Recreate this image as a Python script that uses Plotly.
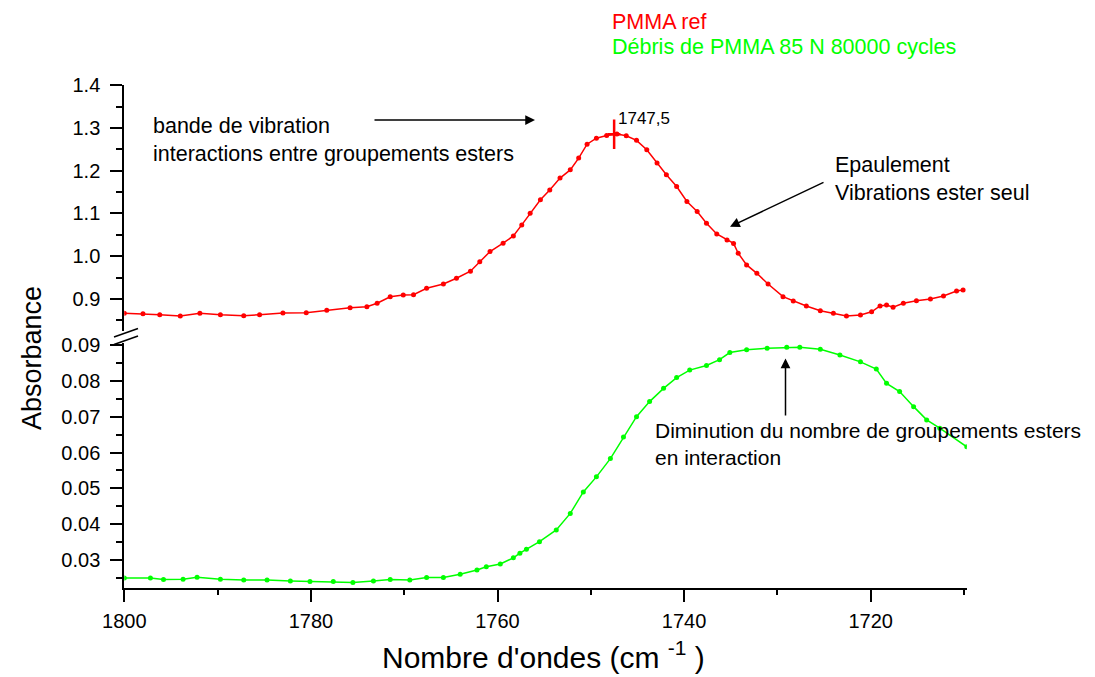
import plotly.graph_objects as go

# ---------------- data ----------------
red_wn = [1800.0, 1798.0, 1796.2, 1794.0, 1791.9, 1789.7, 1787.2, 1785.5, 1783.0, 1780.5,
          1778.3, 1775.8, 1774.0, 1772.9, 1771.5, 1770.1, 1769.0, 1767.6, 1765.8, 1764.4,
          1762.9, 1761.9, 1760.8, 1759.4, 1758.3, 1757.4, 1756.5, 1755.4, 1754.4, 1753.3,
          1752.2, 1751.3, 1750.4, 1749.4, 1748.3, 1747.2, 1746.2, 1745.1, 1744.0, 1742.9,
          1741.9, 1740.8, 1739.7, 1738.6, 1737.6, 1736.5, 1735.4, 1734.7, 1734.2, 1733.3,
          1732.2, 1731.0, 1729.4, 1728.3, 1726.9, 1725.4, 1724.0, 1722.6, 1721.1, 1719.9,
          1719.0, 1718.3, 1717.6, 1716.5, 1715.1, 1713.6, 1712.2, 1710.8, 1710.1]
red_abs = [0.8665, 0.8656, 0.8633, 0.8600, 0.8665, 0.8630, 0.8610, 0.8630, 0.8670, 0.8680,
           0.8735, 0.8797, 0.8820, 0.8900, 0.9050, 0.9094, 0.9100, 0.9250, 0.9350, 0.9485,
           0.9650, 0.9870, 1.0110, 1.0304, 1.0475, 1.0733, 1.1007, 1.1320, 1.1550, 1.1827,
           1.2020, 1.2295, 1.2620, 1.2760, 1.2824, 1.2857, 1.2817, 1.2710, 1.2490, 1.2180,
           1.1904, 1.1630, 1.1280, 1.1045, 1.0773, 1.0520, 1.0380, 1.0300, 1.0070, 0.9796,
           0.9600, 0.9350, 0.9054, 0.8953, 0.8836, 0.8726, 0.8665, 0.8600, 0.8625, 0.8700,
           0.8836, 0.8860, 0.8806, 0.8900, 0.8960, 0.9000, 0.9070, 0.9187, 0.9210]

green_wn = [1800.0, 1797.2, 1795.8, 1793.7, 1792.2, 1789.7, 1787.2, 1784.7, 1782.2, 1780.1,
            1777.6, 1775.5, 1773.3, 1771.5, 1769.4, 1767.6, 1765.8, 1764.0, 1762.2, 1761.2,
            1759.7, 1758.3, 1757.6, 1756.9, 1755.5, 1753.7, 1752.2, 1750.8, 1749.4, 1747.9,
            1746.5, 1745.1, 1743.7, 1742.2, 1740.8, 1739.4, 1737.6, 1736.2, 1735.1, 1733.3,
            1731.1, 1729.0, 1727.6, 1725.4, 1723.3, 1721.1, 1719.4, 1718.3, 1716.9, 1715.4,
            1714.0, 1712.6, 1709.7]
green_abs = [0.0250, 0.0250, 0.02455, 0.0246, 0.0252, 0.0246, 0.0244, 0.0244, 0.02415, 0.0240,
             0.0240, 0.0237, 0.02415, 0.02455, 0.0244, 0.0251, 0.0251, 0.0260, 0.0272, 0.0281,
             0.0289, 0.0306, 0.0319, 0.0330, 0.0351, 0.0384, 0.0430, 0.0490, 0.0532, 0.0583,
             0.0643, 0.0700, 0.0742, 0.0779, 0.0809, 0.0830, 0.0843, 0.0859, 0.0879, 0.0887,
             0.0891, 0.0894, 0.0894, 0.0888, 0.0872, 0.0853, 0.0833, 0.0793, 0.0770, 0.0728,
             0.0691, 0.0668, 0.0616]

peak_wn = [1747.5]
peak_abs = [1.2852]
peak_label = "1747,5"

series_names = ["PMMA ref", "Débris de PMMA 85 N 80000 cycles"]
x_title = "Nombre d'ondes (cm <sup>-1</sup> )"
y_title = "Absorbance"

# ---------------- layout helpers ----------------
W, H = 1095, 677
OFF = 8  # the page places the figure 8 px from the top-left corner
def px(x):
    return (x - OFF) / W
def py(y):
    return 1 - (y - OFF) / H

RED = "#FF0000"
GREEN = "#00FF00"
FONT = "Liberation Sans, Arial, sans-serif"

fig = go.Figure()
fig.add_trace(go.Scatter(x=green_wn, y=green_abs, xaxis="x", yaxis="y",
                         mode="lines+markers", name=series_names[1],
                         line=dict(color=GREEN, width=1.5),
                         marker=dict(color=GREEN, size=5), showlegend=False))
fig.add_trace(go.Scatter(x=red_wn, y=red_abs, xaxis="x2", yaxis="y2",
                         mode="lines+markers", name=series_names[0],
                         line=dict(color=RED, width=1.5),
                         marker=dict(color=RED, size=5), showlegend=False))
fig.add_trace(go.Scatter(x=peak_wn, y=peak_abs, xaxis="x2", yaxis="y2", mode="markers",
                         marker=dict(symbol="line-ns", size=21, color=RED,
                                     line=dict(color=RED, width=2.5)),
                         showlegend=False, hoverinfo="skip"))
fig.add_trace(go.Scatter(x=peak_wn, y=peak_abs, xaxis="x2", yaxis="y2", mode="markers",
                         marker=dict(symbol="line-ew", size=9, color=RED,
                                     line=dict(color=RED, width=2.5)),
                         showlegend=False, hoverinfo="skip"))

x_dom = [px(124.3), px(966.8)]
axis_common = dict(showline=True, linecolor="black", linewidth=2, ticks="outside",
                   ticklen=12, tickwidth=2, tickcolor="black", showgrid=False,
                   zeroline=False, automargin=False,
                   tickfont=dict(size=20, color="black", family=FONT))

fig.update_layout(
    template="none",
    width=W, height=H, autosize=False,
    margin=dict(l=0, r=0, t=0, b=0, pad=0, autoexpand=False),
    paper_bgcolor="white", plot_bgcolor="white", showlegend=False,
    font=dict(family=FONT, color="black", size=20),
    xaxis=dict(domain=x_dom, range=[1800, 1709.7], anchor="y",
               tick0=1800, dtick=20, ticklabelstandoff=2,
               minor=dict(tick0=1800, dtick=10, ticks="outside", ticklen=5,
                          tickwidth=2, tickcolor="black", showgrid=False),
               **axis_common),
    yaxis=dict(domain=[py(588.3), py(343)], range=[0.0221, 0.09056], anchor="x",
               tick0=0, dtick=0.01, tickformat=".2f", ticklabelstandoff=6,
               minor=dict(tick0=0, dtick=0.005, ticks="outside", ticklen=6,
                          tickwidth=2, tickcolor="black", showgrid=False),
               **axis_common),
    xaxis2=dict(domain=x_dom, matches="x", anchor="y2", visible=False, automargin=False),
    yaxis2=dict(domain=[py(331), py(85)], range=[0.8251, 1.4005], anchor="x2",
                tick0=0, dtick=0.1, tickformat=".1f", ticklabelstandoff=6,
                minor=dict(tick0=0, dtick=0.05, ticks="outside", ticklen=6,
                           tickwidth=2, tickcolor="black", showgrid=False),
                **axis_common),
)

# axis break marks
for (x0, y0, x1, y1) in [(114, 337, 138, 328.5), (114, 344.5, 138, 336)]:
    fig.add_shape(type="line", xref="paper", yref="paper",
                  x0=px(x0), y0=py(y0), x1=px(x1), y1=py(y1),
                  line=dict(color="black", width=1.5))

ann = []
# legend-like texts
ann.append(dict(text=series_names[0], x=px(610), y=py(22), font=dict(size=21.5, color=RED)))
ann.append(dict(text=series_names[1], x=px(610), y=py(47), font=dict(size=21.5, color=GREEN)))
# annotations
ann.append(dict(text="bande de vibration<br>interactions entre groupements esters",
                x=px(151), y=py(139.5), font=dict(size=21.5)))
ann.append(dict(text=peak_label, x=px(616), y=py(118), font=dict(size=17)))
ann.append(dict(text="Epaulement<br>Vibrations ester seul", x=px(833), y=py(179),
                font=dict(size=21.5)))
ann.append(dict(text="Diminution du nombre de groupements esters<br>en interaction",
                x=px(653), y=py(444), font=dict(size=21)))
# x axis title (with the cm^-1 superscript)
ann.append(dict(text=x_title, x=px(380), y=py(655), font=dict(size=30)))
for a in ann:
    a.update(xref="paper", yref="paper", xanchor="left", yanchor="middle",
             showarrow=False, align="left")
    a["font"].setdefault("family", FONT)
    a["font"].setdefault("color", "black")
    fig.add_annotation(**a)

fig.add_annotation(text=y_title, x=px(32), y=py(358), xref="paper", yref="paper",
                   xanchor="center", yanchor="middle", textangle=-90, showarrow=False,
                   font=dict(size=27, family=FONT, color="black"))

# arrows
for (hx, hy, tx, ty) in [(535, 120, 373, 120), (730, 226.7, 825, 181.7), (785.5, 358.5, 785.5, 417)]:
    fig.add_annotation(text="", x=px(hx), y=py(hy), xref="paper", yref="paper",
                       ax=tx - hx, ay=ty - hy, axref="pixel", ayref="pixel",
                       showarrow=True, arrowhead=2, arrowsize=1.3, arrowwidth=1.5,
                       arrowcolor="black")

fig.write_html("out.html")
